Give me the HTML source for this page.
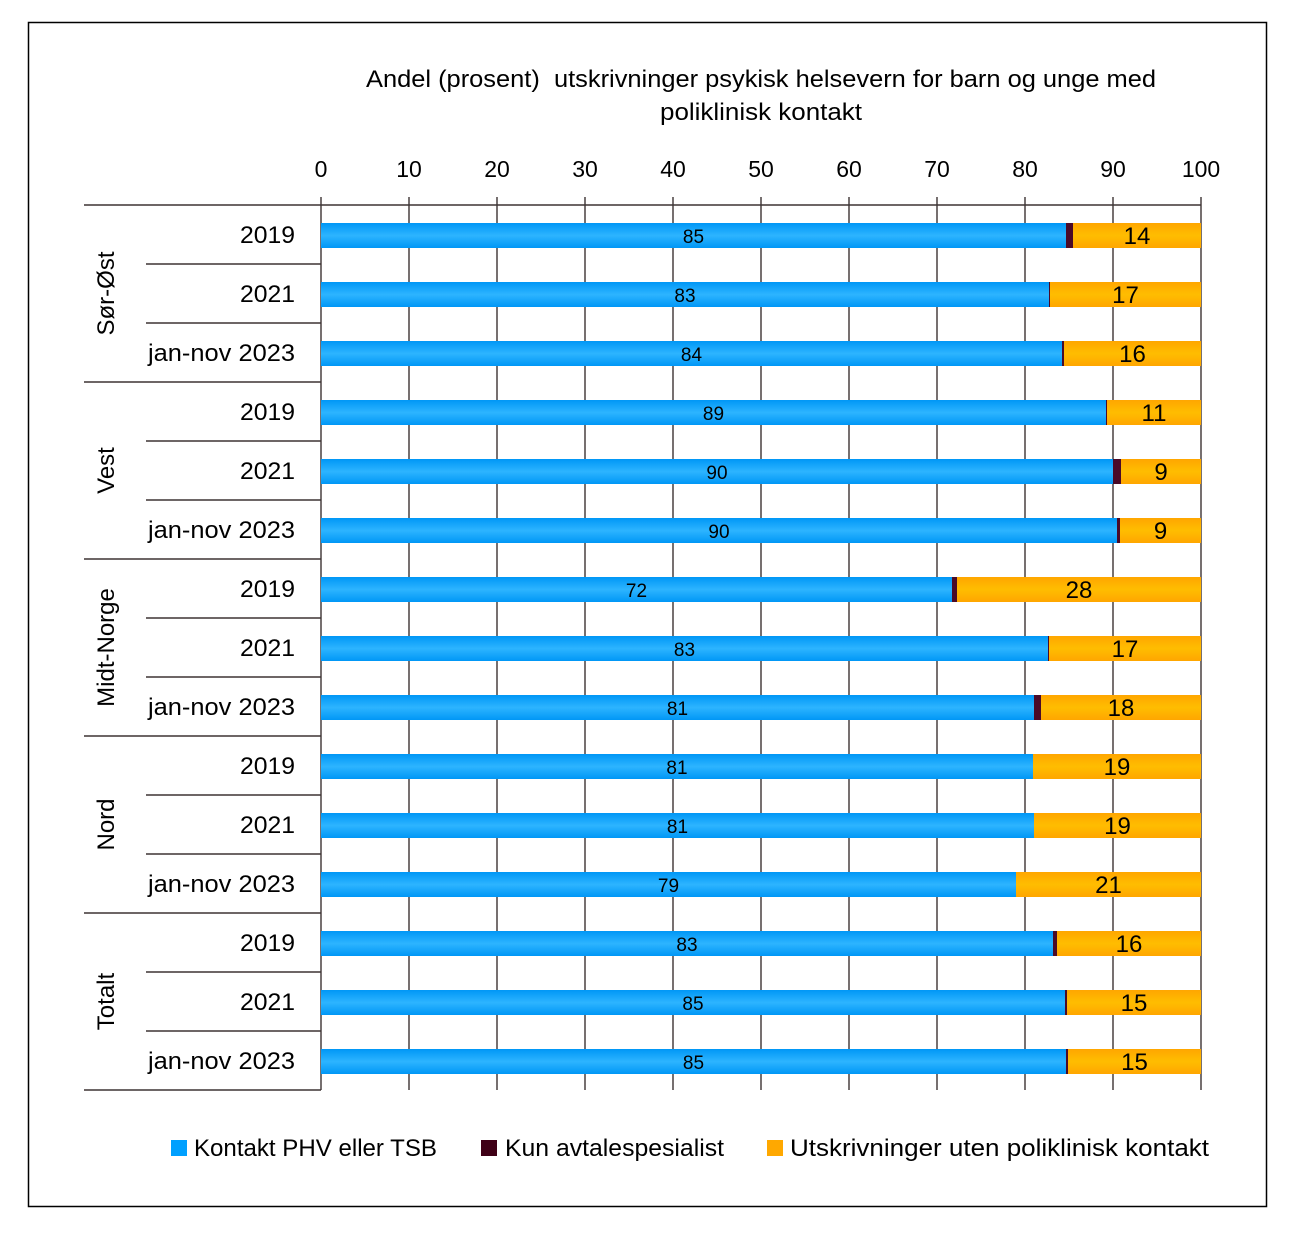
<!DOCTYPE html>
<html>
<head>
<meta charset="utf-8">
<style>
html,body{margin:0;padding:0;background:#fff;}
svg{display:block;}
text{font-family:"Liberation Sans",sans-serif;fill:#000;}
</style>
</head>
<body>
<svg width="1294" height="1241" viewBox="0 0 1294 1241" xmlns="http://www.w3.org/2000/svg">
<defs>
<linearGradient id="gb" x1="0" y1="0" x2="0" y2="1">
<stop offset="0" stop-color="#0097f6"/>
<stop offset="0.5" stop-color="#2db4ff"/>
<stop offset="1" stop-color="#0097f6"/>
</linearGradient>
<linearGradient id="go" x1="0" y1="0" x2="0" y2="1">
<stop offset="0" stop-color="#ffa600"/>
<stop offset="0.5" stop-color="#ffbd00"/>
<stop offset="1" stop-color="#ffa600"/>
</linearGradient>
</defs>
<rect x="0" y="0" width="1294" height="1241" fill="#fff"/>
<rect x="28.5" y="22.5" width="1238" height="1184" fill="none" stroke="#000" stroke-width="1.5"/>

<!-- Title -->
<text x="366" y="87" font-size="24" textLength="790" lengthAdjust="spacingAndGlyphs">Andel (prosent)&#160; utskrivninger psykisk helsevern for barn og unge med</text>
<text x="660" y="120" font-size="24" textLength="202" lengthAdjust="spacingAndGlyphs">poliklinisk kontakt</text>

<!-- Tick labels -->
<g font-size="23" text-anchor="middle">
<text x="321" y="177">0</text>
<text x="409" y="177">10</text>
<text x="497" y="177">20</text>
<text x="585" y="177">30</text>
<text x="673" y="177">40</text>
<text x="761" y="177">50</text>
<text x="849" y="177">60</text>
<text x="937" y="177">70</text>
<text x="1025" y="177">80</text>
<text x="1113" y="177">90</text>
<text x="1201" y="177">100</text>
</g>

<!-- Gridlines -->
<g stroke="#3d3434" stroke-width="1.4">
<line x1="321" y1="197" x2="321" y2="1090"/>
<line x1="409" y1="197" x2="409" y2="1090"/>
<line x1="497" y1="197" x2="497" y2="1090"/>
<line x1="585" y1="197" x2="585" y2="1090"/>
<line x1="673" y1="197" x2="673" y2="1090"/>
<line x1="761" y1="197" x2="761" y2="1090"/>
<line x1="849" y1="197" x2="849" y2="1090"/>
<line x1="937" y1="197" x2="937" y2="1090"/>
<line x1="1025" y1="197" x2="1025" y2="1090"/>
<line x1="1113" y1="197" x2="1113" y2="1090"/>
<line x1="1201" y1="197" x2="1201" y2="1090"/>
<line x1="84" y1="205" x2="1201" y2="205"/>
<line x1="84" y1="382" x2="321" y2="382"/>
<line x1="84" y1="559" x2="321" y2="559"/>
<line x1="84" y1="736" x2="321" y2="736"/>
<line x1="84" y1="913" x2="321" y2="913"/>
<line x1="84" y1="1090" x2="321" y2="1090"/>
<line x1="146" y1="264" x2="321" y2="264"/>
<line x1="146" y1="323" x2="321" y2="323"/>
<line x1="146" y1="441" x2="321" y2="441"/>
<line x1="146" y1="500" x2="321" y2="500"/>
<line x1="146" y1="618" x2="321" y2="618"/>
<line x1="146" y1="677" x2="321" y2="677"/>
<line x1="146" y1="795" x2="321" y2="795"/>
<line x1="146" y1="854" x2="321" y2="854"/>
<line x1="146" y1="972" x2="321" y2="972"/>
<line x1="146" y1="1031" x2="321" y2="1031"/>
</g>

<!-- Group labels -->
<g font-size="24" text-anchor="middle">
<text transform="translate(114,293.5) rotate(-90)">Sør-Øst</text>
<text transform="translate(114,470.5) rotate(-90)">Vest</text>
<text transform="translate(114,647.5) rotate(-90)">Midt-Norge</text>
<text transform="translate(114,824.5) rotate(-90)">Nord</text>
<text transform="translate(114,1001.5) rotate(-90)">Totalt</text>
</g>

<!-- Category labels -->
<g font-size="24">
<text x="240" y="243" textLength="55" lengthAdjust="spacingAndGlyphs">2019</text>
<text x="240" y="302" textLength="55" lengthAdjust="spacingAndGlyphs">2021</text>
<text x="148" y="361" textLength="147" lengthAdjust="spacingAndGlyphs">jan-nov 2023</text>
<text x="240" y="420" textLength="55" lengthAdjust="spacingAndGlyphs">2019</text>
<text x="240" y="479" textLength="55" lengthAdjust="spacingAndGlyphs">2021</text>
<text x="148" y="538" textLength="147" lengthAdjust="spacingAndGlyphs">jan-nov 2023</text>
<text x="240" y="597" textLength="55" lengthAdjust="spacingAndGlyphs">2019</text>
<text x="240" y="656" textLength="55" lengthAdjust="spacingAndGlyphs">2021</text>
<text x="148" y="715" textLength="147" lengthAdjust="spacingAndGlyphs">jan-nov 2023</text>
<text x="240" y="774" textLength="55" lengthAdjust="spacingAndGlyphs">2019</text>
<text x="240" y="833" textLength="55" lengthAdjust="spacingAndGlyphs">2021</text>
<text x="148" y="892" textLength="147" lengthAdjust="spacingAndGlyphs">jan-nov 2023</text>
<text x="240" y="951" textLength="55" lengthAdjust="spacingAndGlyphs">2019</text>
<text x="240" y="1010" textLength="55" lengthAdjust="spacingAndGlyphs">2021</text>
<text x="148" y="1069" textLength="147" lengthAdjust="spacingAndGlyphs">jan-nov 2023</text>
</g>

<!-- Bars -->
<g>
<rect x="321" y="223" width="745" height="25" fill="url(#gb)"/>
<rect x="1066" y="223" width="7" height="25" fill="#4a0a28"/>
<rect x="1073" y="223" width="128" height="25" fill="url(#go)"/>
<rect x="321" y="282" width="728" height="25" fill="url(#gb)"/>
<rect x="1049" y="282" width="1.2" height="25" fill="#4a0a28"/>
<rect x="1050" y="282" width="151" height="25" fill="url(#go)"/>
<rect x="321" y="341" width="741" height="25" fill="url(#gb)"/>
<rect x="1062" y="341" width="2" height="25" fill="#4a0a28"/>
<rect x="1064" y="341" width="137" height="25" fill="url(#go)"/>
<rect x="321" y="400" width="785" height="25" fill="url(#gb)"/>
<rect x="1106" y="400" width="1.2" height="25" fill="#4a0a28"/>
<rect x="1107" y="400" width="94" height="25" fill="url(#go)"/>
<rect x="321" y="459" width="792" height="25" fill="url(#gb)"/>
<rect x="1113" y="459" width="8" height="25" fill="#4a0a28"/>
<rect x="1121" y="459" width="80" height="25" fill="url(#go)"/>
<rect x="321" y="518" width="796" height="25" fill="url(#gb)"/>
<rect x="1117" y="518" width="3" height="25" fill="#4a0a28"/>
<rect x="1120" y="518" width="81" height="25" fill="url(#go)"/>
<rect x="321" y="577" width="631" height="25" fill="url(#gb)"/>
<rect x="952" y="577" width="5" height="25" fill="#4a0a28"/>
<rect x="957" y="577" width="244" height="25" fill="url(#go)"/>
<rect x="321" y="636" width="727" height="25" fill="url(#gb)"/>
<rect x="1048" y="636" width="1.2" height="25" fill="#4a0a28"/>
<rect x="1049" y="636" width="152" height="25" fill="url(#go)"/>
<rect x="321" y="695" width="713" height="25" fill="url(#gb)"/>
<rect x="1034" y="695" width="7" height="25" fill="#4a0a28"/>
<rect x="1041" y="695" width="160" height="25" fill="url(#go)"/>
<rect x="321" y="754" width="712" height="25" fill="url(#gb)"/>
<rect x="1033" y="754" width="168" height="25" fill="url(#go)"/>
<rect x="321" y="813" width="713" height="25" fill="url(#gb)"/>
<rect x="1034" y="813" width="167" height="25" fill="url(#go)"/>
<rect x="321" y="872" width="695" height="25" fill="url(#gb)"/>
<rect x="1016" y="872" width="185" height="25" fill="url(#go)"/>
<rect x="321" y="931" width="732" height="25" fill="url(#gb)"/>
<rect x="1053" y="931" width="4" height="25" fill="#4a0a28"/>
<rect x="1057" y="931" width="144" height="25" fill="url(#go)"/>
<rect x="321" y="990" width="744" height="25" fill="url(#gb)"/>
<rect x="1065" y="990" width="2" height="25" fill="#4a0a28"/>
<rect x="1067" y="990" width="134" height="25" fill="url(#go)"/>
<rect x="321" y="1049" width="745" height="25" fill="url(#gb)"/>
<rect x="1066" y="1049" width="2" height="25" fill="#4a0a28"/>
<rect x="1068" y="1049" width="133" height="25" fill="url(#go)"/>
</g>

<!-- Blue labels -->
<g font-size="19" text-anchor="middle">
<text x="693.5" y="243">85</text>
<text x="685" y="302">83</text>
<text x="691.5" y="361">84</text>
<text x="713.5" y="420">89</text>
<text x="717" y="479">90</text>
<text x="719" y="538">90</text>
<text x="636.5" y="597">72</text>
<text x="684.5" y="656">83</text>
<text x="677.5" y="715">81</text>
<text x="677" y="774">81</text>
<text x="677.5" y="833">81</text>
<text x="668.5" y="892">79</text>
<text x="687" y="951">83</text>
<text x="693" y="1010">85</text>
<text x="693.5" y="1069">85</text>
</g>

<!-- Orange labels -->
<g font-size="24" text-anchor="middle">
<text x="1137" y="244">14</text>
<text x="1125.5" y="303">17</text>
<text x="1132.5" y="362">16</text>
<text x="1154" y="421">11</text>
<text x="1161" y="480">9</text>
<text x="1160.5" y="539">9</text>
<text x="1079" y="598">28</text>
<text x="1125" y="657">17</text>
<text x="1121" y="716">18</text>
<text x="1117" y="775">19</text>
<text x="1117.5" y="834">19</text>
<text x="1108.5" y="893">21</text>
<text x="1129" y="952">16</text>
<text x="1134" y="1011">15</text>
<text x="1134.5" y="1070">15</text>
</g>

<!-- Legend -->
<rect x="171" y="1140" width="16" height="16" fill="#00a0ff"/>
<text x="194" y="1156" font-size="24" textLength="243" lengthAdjust="spacingAndGlyphs">Kontakt PHV eller TSB</text>
<rect x="481" y="1140" width="16" height="16" fill="#3f0016"/>
<text x="505" y="1156" font-size="24" textLength="219" lengthAdjust="spacingAndGlyphs">Kun avtalespesialist</text>
<rect x="767" y="1140" width="16" height="16" fill="#ffa800"/>
<text x="790" y="1156" font-size="24" textLength="419" lengthAdjust="spacingAndGlyphs">Utskrivninger uten poliklinisk kontakt</text>
</svg>
</body>
</html>
